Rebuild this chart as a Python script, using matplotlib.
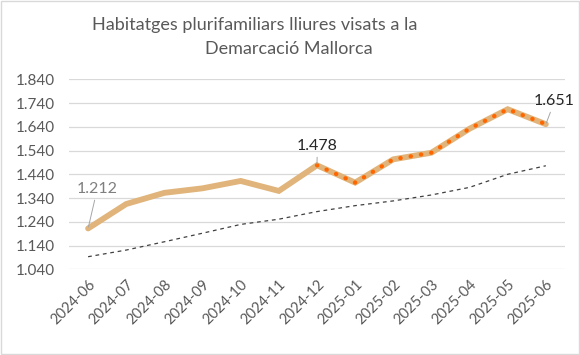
import matplotlib
matplotlib.use("Agg")
from matplotlib import pyplot as plt
from matplotlib.patches import Rectangle
from matplotlib.ticker import FuncFormatter

months = ["2024-06", "2024-07", "2024-08", "2024-09", "2024-10", "2024-11", "2024-12",
          "2025-01", "2025-02", "2025-03", "2025-04", "2025-05", "2025-06"]
visats = [1212, 1315, 1362, 1381, 1412, 1370, 1478, 1405, 1503, 1531, 1632, 1714, 1651]
trend = [1093, 1121, 1156, 1192, 1229, 1251, 1283, 1308, 1328, 1353, 1385, 1440, 1476]
y_ticks = [1040, 1140, 1240, 1340, 1440, 1540, 1640, 1740, 1840]
proj_start = 6  # from 2024-12 the line is drawn with the orange dots

plt.rcParams["font.family"] = ["Lato", "DejaVu Sans"]

fig = plt.figure(figsize=(5.8, 3.55), dpi=100)
fig.patches.append(Rectangle((0.002, 0.003), 0.996, 0.994, transform=fig.transFigure,
                             fill=False, edgecolor="#d9d9d9", linewidth=1))
ax = fig.add_axes([0.119, 0.2414, 0.855, 0.5352])

x = list(range(len(months)))
ax.plot(x, trend, color="#404040", linewidth=0.9, linestyle=(0, (3, 3)), zorder=2)
ax.plot(x, visats, color="#e0b47a", linewidth=4.2, solid_joinstyle="miter",
        solid_capstyle="round", zorder=3)
ax.plot(x[proj_start:], visats[proj_start:], color="#ff6600", linewidth=3.0,
        linestyle=(0, (0.1, 2.4)), dash_capstyle="round", zorder=4)

def fmt(v):
    return f"{v:,.0f}".replace(",", ".")

labels = [(0, 0.24, 1378, "#7f7f7f"), (6, 6.01, 1559, "#262626"), (12, 12.23, 1748, "#262626")]
for i, tx, ty, col in labels:
    ax.annotate(fmt(visats[i]), xy=(i, visats[i]), xytext=(tx, ty), ha="center", va="center",
                fontsize=11.5, color=col, zorder=5, annotation_clip=False,
                arrowprops=dict(arrowstyle="-", color="#a6a6a6", lw=0.7, shrinkA=1, shrinkB=1))

ax.set_xlim(-0.5, len(months) - 0.5)
ax.set_ylim(y_ticks[0], y_ticks[-1])
ax.set_yticks(y_ticks)
ax.yaxis.set_major_formatter(FuncFormatter(lambda v, p: fmt(v)))
ax.set_xticks(x)
ax.set_xticklabels(months, rotation=45, ha="right", rotation_mode="anchor")
ax.tick_params(length=0, labelsize=11, labelcolor="#595959")
ax.tick_params(axis="x", pad=6, labelsize=10.5)
ax.tick_params(axis="y", pad=10)
ax.grid(axis="y", color="#d9d9d9", linewidth=0.9)
ax.set_axisbelow(True)
for s in ax.spines.values():
    s.set_visible(False)

fig.text(255 / 580, 1 - 25 / 355, "Habitatges plurifamiliars lliures visats a la",
         ha="center", va="center", fontsize=13, color="#595959")
fig.text(289 / 580, 1 - 49 / 355, "Demarcació Mallorca",
         ha="center", va="center", fontsize=13, color="#595959")

fig.savefig("out.png", dpi=100)
